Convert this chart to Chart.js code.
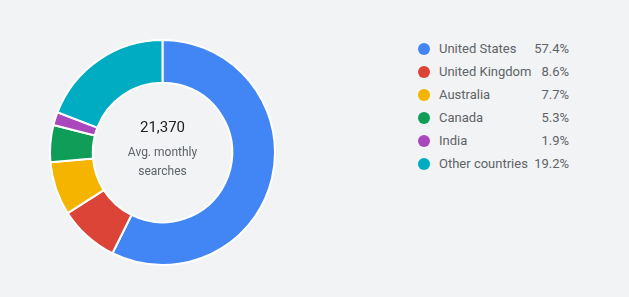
<!DOCTYPE html>
<html>
<head>
<meta charset="utf-8">
<script src="https://cdn.jsdelivr.net/npm/chart.js@4"></script>
<style>
  html, body { margin: 0; padding: 0; background: #f1f3f4; }
  #wrap { position: relative; width: 629px; height: 297px; font-family: Roboto, sans-serif; }
  #box { position: absolute; left: 0; top: 0; width: 325px; height: 297px; }
  #legend { position: absolute; left: 418px; top: 37px; width: 151px; }
  .row { height: 23px; display: flex; align-items: center; font-size: 13px; color: #5f6368; }
  .dot { width: 12px; height: 12px; border-radius: 50%; margin-right: 9px; flex: none; }
  .name { flex: 1; white-space: nowrap; }
  .val { text-align: right; }
</style>
</head>
<body>
<div id="wrap">
  <div id="box"><canvas id="donut"></canvas></div>
  <div id="legend"></div>
</div>
<script>
var countries = ['United States', 'United Kingdom', 'Australia', 'Canada', 'India', 'Other countries'];
var shares = [57.4, 8.6, 7.7, 5.3, 1.9, 19.2];
var colors = ['#4285f4', '#db4437', '#f4b400', '#0f9d58', '#ab47bc', '#00acc1'];
var total = '21,370';
var subLines = ['Avg. monthly', 'searches'];

// legend built by hand, two columns
var legend = document.getElementById('legend');
countries.forEach(function (c, i) {
    var row = document.createElement('div');
    row.className = 'row';
    row.innerHTML = '<span class="dot" style="background:' + colors[i] + '"></span>' +
        '<span class="name">' + c + '</span><span class="val">' + shares[i].toFixed(1) + '%</span>';
    legend.appendChild(row);
});

var centerText = {
    id: 'centerText',
    afterDraw: function (chart) {
        var meta = chart.getDatasetMeta(0).data[0];
        var x = meta.x, y = meta.y;
        var ctx = chart.ctx;
        ctx.save();
        ctx.textAlign = 'center';
        ctx.textBaseline = 'middle';
        ctx.fillStyle = '#202124';
        ctx.font = '15px Roboto';
        ctx.fillText(total, x, y - 24);
        ctx.fillStyle = '#5f6368';
        ctx.font = '12px Roboto';
        ctx.fillText(subLines[0], x, y);
        ctx.fillText(subLines[1], x, y + 19);
        ctx.restore();
    }
};

new Chart(document.getElementById('donut'), {
    type: 'doughnut',
    data: {
        labels: countries,
        datasets: [{
            data: shares,
            backgroundColor: colors,
            borderColor: '#ffffff',
            borderWidth: 2
        }]
    },
    options: {
        responsive: true,
        maintainAspectRatio: false,
        animation: false,
        cutout: '62%',
        layout: { padding: { top: 39, bottom: 31, left: 0, right: 0 } },
        plugins: {
            legend: { display: false },
            tooltip: { enabled: false }
        }
    },
    plugins: [centerText]
});
</script>
</body>
</html>
